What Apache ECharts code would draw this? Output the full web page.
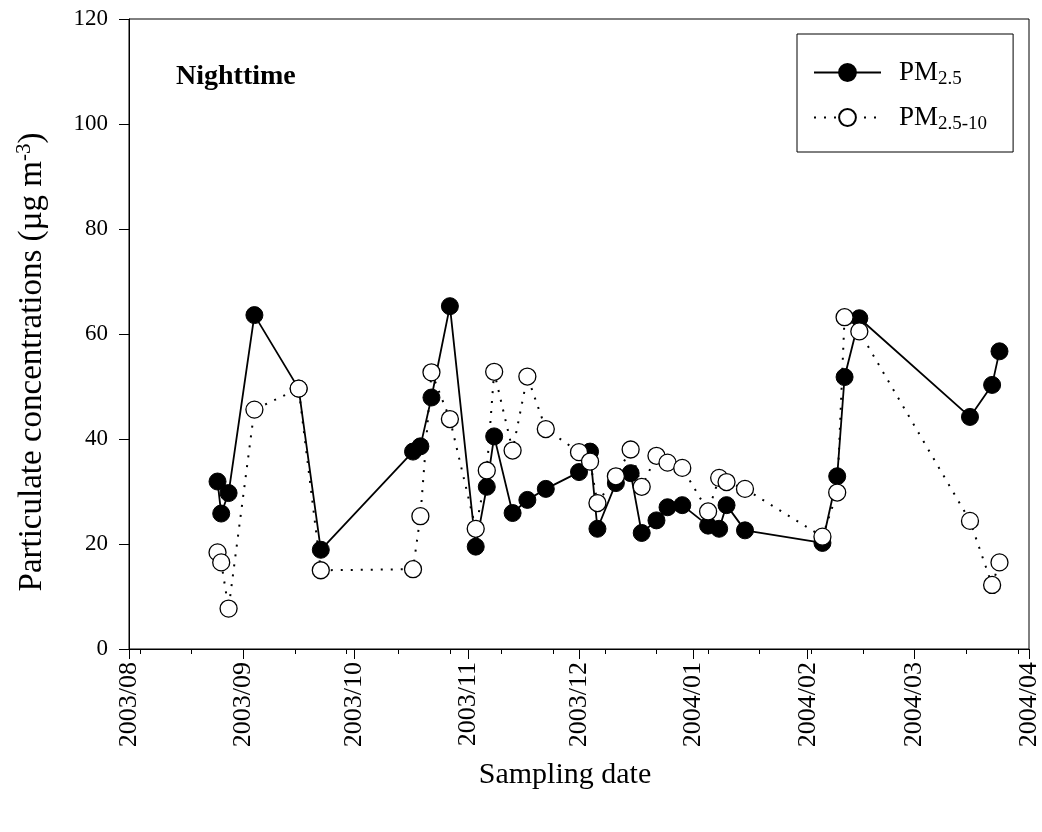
<!DOCTYPE html>
<html>
<head>
<meta charset="utf-8">
<script src="https://cdn.jsdelivr.net/npm/echarts@6/dist/echarts.min.js"></script>
<style>
  html, body { margin: 0; padding: 0; background: #fff; }
  #chart { width: 1042px; height: 832px; }
</style>
</head>
<body>
<div id="chart"></div>
<script>
// sampling dates (nighttime)
var sampleDates = ['2003-08-25', '2003-08-26', '2003-08-28', '2003-09-04', '2003-09-16', '2003-09-22',
  '2003-10-17', '2003-10-19', '2003-10-22', '2003-10-27', '2003-11-03', '2003-11-06', '2003-11-08',
  '2003-11-13', '2003-11-17', '2003-11-22', '2003-12-01', '2003-12-04', '2003-12-06', '2003-12-11',
  '2003-12-15', '2003-12-18', '2003-12-22', '2003-12-25', '2003-12-29', '2004-01-05', '2004-01-08',
  '2004-01-10', '2004-01-15', '2004-02-05', '2004-02-09', '2004-02-11', '2004-02-15', '2004-03-16',
  '2004-03-22', '2004-03-24']
var pm25 = [31.9, 25.8, 29.7, 63.6, 49.6, 18.9, 37.6, 38.6, 47.9, 65.3, 19.5, 30.9, 40.5,
  25.9, 28.4, 30.5, 33.7, 37.6, 22.9, 31.6, 33.5, 22.1, 24.5, 27.0, 27.4, 23.5, 22.9,
  27.4, 22.6, 20.2, 32.9, 51.8, 63.0, 44.2, 50.3, 56.7]
var pm25to10 = [18.4, 16.5, 7.7, 45.6, 49.6, 15.0, 15.2, 25.3, 52.7, 43.8, 22.9, 34.0, 52.8,
  37.8, 51.9, 41.9, 37.5, 35.7, 27.8, 32.9, 38.0, 30.9, 36.8, 35.5, 34.5, 26.2, 32.6,
  31.8, 30.5, 21.4, 29.8, 63.2, 60.5, 24.4, 12.2, 16.5]
// axis ticks
var monthTicks = ['2003-08-01', '2003-09-01', '2003-10-01', '2003-11-01', '2003-12-01',
  '2004-01-01', '2004-02-01', '2004-03-01', '2004-04-01']
var weekTicks = ['2003-08-04', '2003-08-18', '2003-09-01', '2003-09-15', '2003-09-29', '2003-10-13',
  '2003-10-27', '2003-11-10', '2003-11-24', '2003-12-08', '2003-12-22', '2004-01-05', '2004-01-19',
  '2004-02-02', '2004-02-16', '2004-03-01', '2004-03-15', '2004-03-29']

function toTime (s) {
  var p = s.split('-')
  return new Date(+p[0], +p[1] - 1, +p[2]).getTime()
}
function pad (n) { return n < 10 ? '0' + n : '' + n }

var xMin = toTime(monthTicks[0])
var xMax = toTime(monthTicks[monthTicks.length - 1])
var FONT = 'Liberation Serif'

var chart = echarts.init(document.getElementById('chart'))
chart.setOption({
  backgroundColor: '#ffffff',
  animation: false,
  textStyle: { fontFamily: FONT, color: '#000' },
  title: {
    text: 'Nighttime',
    left: 176,
    top: 63,
    padding: 0,
    textStyle: { fontFamily: FONT, fontSize: 28, fontWeight: 'bold', color: '#000' }
  },
  grid: {
    left: 129,
    top: 19,
    right: 13,
    bottom: 183,
    show: true,
    borderColor: '#000',
    borderWidth: 1
  },
  legend: {
    orient: 'vertical',
    left: 797,
    top: 34,
    padding: [22, 26, 18, 16],
    itemGap: 12,
    itemWidth: 67,
    itemHeight: 21,
    borderColor: '#000',
    borderWidth: 1,
    data: ['PM2.5', 'PM2.5-10'],
    formatter: function (name) {
      return '{p|PM}{s|' + name.slice(2) + '}'
    },
    textStyle: {
      fontFamily: FONT,
      color: '#000',
      padding: [0, 0, 0, 13],
      rich: {
        p: { fontFamily: FONT, fontSize: 27, lineHeight: 30, color: '#000' },
        s: { fontFamily: FONT, fontSize: 19, lineHeight: 30, color: '#000', padding: [14, 0, 0, 0] }
      }
    }
  },
  xAxis: [{
    type: 'value',
    min: xMin,
    max: xMax,
    name: 'Sampling date',
    nameLocation: 'middle',
    nameGap: 111,
    nameTextStyle: { fontFamily: FONT, fontSize: 30, color: '#000', padding: [0, 28, 0, 0] },
    axisLine: { lineStyle: { color: '#000', width: 1 } },
    axisTick: {
      inside: false,
      length: 10,
      lineStyle: { color: '#000' },
      customValues: monthTicks.map(toTime)
    },
    axisLabel: {
      rotate: 90,
      margin: 13,
      fontFamily: FONT,
      fontSize: 26,
      color: '#000',
      customValues: monthTicks.map(toTime),
      formatter: function (v) {
        var d = new Date(v)
        return d.getFullYear() + '/' + pad(d.getMonth() + 1)
      }
    },
    splitLine: { show: false }
  }, {
    type: 'value',
    position: 'bottom',
    min: xMin,
    max: xMax,
    axisLine: { show: false },
    axisTick: {
      length: 5,
      lineStyle: { color: '#000' },
      customValues: weekTicks.map(toTime)
    },
    axisLabel: { show: false },
    splitLine: { show: false }
  }],
  yAxis: {
    type: 'value',
    min: 0,
    max: 120,
    interval: 20,
    name: 'Particulate concentrations (µg m{sup|-3})',
    nameLocation: 'middle',
    nameGap: 78,
    nameTextStyle: {
      fontFamily: FONT,
      fontSize: 33,
      color: '#000',
      padding: [0, 56, 0, 0],
      rich: {
        sup: { fontFamily: FONT, fontSize: 21, color: '#000', padding: [0, 0, 16, 0] }
      }
    },
    axisLine: { show: true, lineStyle: { color: '#000', width: 1 } },
    axisTick: { show: true, inside: false, length: 10, lineStyle: { color: '#000' } },
    axisLabel: { margin: 21, fontFamily: FONT, fontSize: 23, color: '#000' },
    splitLine: { show: false }
  },
  series: [{
    name: 'PM2.5',
    type: 'line',
    data: sampleDates.map(function (d, i) { return [toTime(d), pm25[i]] }),
    symbol: 'circle',
    symbolSize: 17,
    itemStyle: { color: '#000', borderColor: '#000', borderWidth: 1 },
    lineStyle: { color: '#000', width: 1.8, type: 'solid' }
  }, {
    name: 'PM2.5-10',
    type: 'line',
    data: sampleDates.map(function (d, i) { return [toTime(d), pm25to10[i]] }),
    symbol: 'circle',
    symbolSize: 17,
    itemStyle: { color: '#fff', borderColor: '#000', borderWidth: 1.3 },
    lineStyle: { color: '#000', width: 2, type: [2, 8] }
  }]
})
</script>
</body>
</html>
